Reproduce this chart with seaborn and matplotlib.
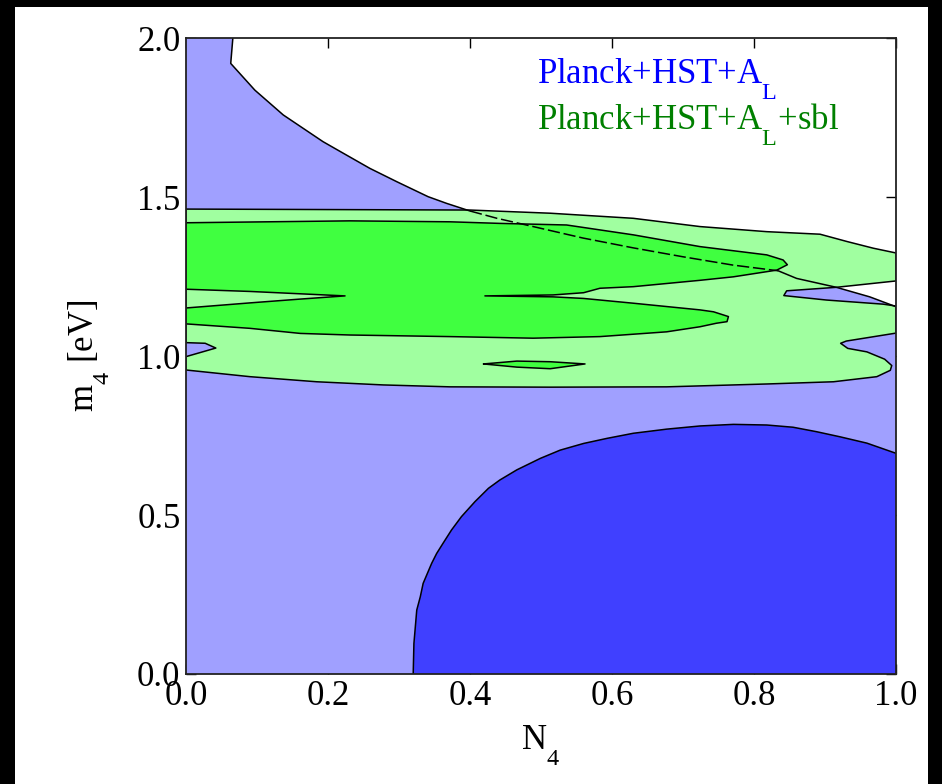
import numpy as np
import pandas as pd
import matplotlib
matplotlib.use("Agg")
import matplotlib.pyplot as plt
import seaborn as sns
from matplotlib.patches import Rectangle

# ---------------- data ----------------
# Planck+HST+A_L : 2-sigma boundary (white region above/right of it)
blue2_n = [0.066, 0.063, 0.097, 0.137, 0.193, 0.222, 0.259, 0.297, 0.341, 0.367,
           0.400, 0.438, 0.489, 0.559, 0.630, 0.700, 0.770, 0.834,
           0.860, 0.916, 0.963, 1.000]
blue2_m = [2.000, 1.920, 1.836, 1.758, 1.674, 1.637, 1.590, 1.548, 1.501, 1.480,
           1.456, 1.433, 1.407, 1.371, 1.340, 1.312, 1.286, 1.268,
           1.244, 1.216, 1.186, 1.155]
dash_start, dash_end = 10, 17   # indices where the boundary is drawn dashed

# Planck+HST+A_L : 1-sigma region (bottom right)
blue1_n = [0.320, 0.321, 0.325, 0.330, 0.334, 0.346, 0.353, 0.362, 0.374, 0.388,
           0.407, 0.426, 0.442, 0.466, 0.499, 0.527, 0.560, 0.593, 0.630, 0.677,
           0.724, 0.771, 0.818, 0.855, 0.888, 0.921, 0.959, 1.000]
blue1_m = [0.000, 0.096, 0.201, 0.243, 0.285, 0.348, 0.379, 0.411, 0.453, 0.495,
           0.542, 0.584, 0.610, 0.642, 0.678, 0.704, 0.725, 0.741, 0.757, 0.770,
           0.780, 0.785, 0.783, 0.776, 0.762, 0.746, 0.726, 0.694]

# Planck+HST+A_L+sbl : 2-sigma region
green2_n = [0.000, 0.400, 0.513, 0.630, 0.724, 0.818, 0.893, 0.931, 0.968, 1.000,
            1.000, 0.916, 0.846, 0.842, 0.902, 0.982, 1.000,
            1.000, 0.930, 0.922, 0.932, 0.959, 0.984, 0.994, 0.992, 0.973, 0.912,
            0.818, 0.677, 0.513, 0.372, 0.278, 0.184, 0.090, 0.000,
            0.000, 0.042, 0.027, 0.000]
green2_m = [1.462, 1.459, 1.449, 1.433, 1.407, 1.391, 1.383, 1.360, 1.339, 1.324,
            1.236, 1.216, 1.205, 1.190, 1.176, 1.163, 1.157,
            1.072, 1.047, 1.040, 1.024, 1.013, 0.990, 0.970, 0.955, 0.935, 0.919,
            0.912, 0.903, 0.902, 0.903, 0.909, 0.919, 0.935, 0.956,
            0.998, 1.025, 1.040, 1.042]

# Planck+HST+A_L+sbl : 1-sigma main region
green1_n = [0.000, 0.231, 0.372, 0.442, 0.536, 0.630, 0.724, 0.818, 0.841, 0.847,
            0.832, 0.771, 0.724, 0.677, 0.630, 0.583, 0.560, 0.517, 0.421,
            0.517, 0.560, 0.630, 0.724, 0.743, 0.764, 0.762, 0.747, 0.724, 0.677,
            0.583, 0.489, 0.372, 0.231, 0.161, 0.090, 0.000,
            0.000, 0.090, 0.161, 0.224, 0.090, 0.000]
green1_m = [1.419, 1.425, 1.422, 1.417, 1.412, 1.381, 1.344, 1.318, 1.302, 1.287,
            1.270, 1.249, 1.238, 1.228, 1.218, 1.213, 1.199, 1.192, 1.189,
            1.186, 1.181, 1.166, 1.145, 1.139, 1.124, 1.108, 1.103, 1.092, 1.076,
            1.061, 1.056, 1.061, 1.066, 1.071, 1.087, 1.101,
            1.151, 1.167, 1.179, 1.189, 1.203, 1.210]

# Planck+HST+A_L+sbl : small 1-sigma island
island_n = [0.419, 0.466, 0.513, 0.562, 0.513, 0.466]
island_m = [0.975, 0.984, 0.982, 0.975, 0.960, 0.965]

x_ticks = [0.0, 0.2, 0.4, 0.6, 0.8, 1.0]
y_ticks = [0.0, 0.5, 1.0, 1.5, 2.0]
labels = [r"Planck+HST+A$_\mathrm{L}$", r"Planck+HST+A$_\mathrm{L}$+sbl"]

# ---------------- style ----------------
sns.set_theme(style="ticks")
plt.rcParams['font.family'] = ['Liberation Serif', 'DejaVu Serif']
plt.rcParams['mathtext.fontset'] = 'custom'
plt.rcParams['mathtext.rm'] = 'Liberation Serif'
plt.rcParams['mathtext.it'] = 'Liberation Serif:italic'
plt.rcParams['mathtext.bf'] = 'Liberation Serif:bold'
# deeper subscripts, as in the reference typesetting
try:
    import matplotlib._mathtext as _mt
    _mt.FontConstantsBase.sub1 = 0.95
except Exception:
    pass

c_lblue, c_dblue = '#A0A0FF', '#4040FF'
c_lgreen, c_dgreen = '#A0FFA0', '#40FF40'

fig = plt.figure(figsize=(9.42, 7.84), dpi=100, facecolor='black')
fig.add_artist(Rectangle((15 / 942, 0), (928 - 15) / 942, (784 - 7) / 784,
                         transform=fig.transFigure, facecolor='white',
                         edgecolor='none', zorder=-10))
ax = fig.add_axes([186 / 942, 110 / 784, 710 / 942, 636 / 784])
ax.set_facecolor('white')


def closed(a):
    return list(a) + [a[0]]


def outline(n, m, **kw):
    sns.lineplot(x=np.asarray(n), y=np.asarray(m), sort=False, estimator=None,
                 color='black', lw=1.1, ax=ax, **kw)


# light-blue 2 sigma region
ax.fill([0, 0] + blue2_n + [1], [0, 2] + blue2_m + [0], color=c_lblue, lw=0, zorder=1)
# dark-blue 1 sigma region
ax.fill(blue1_n + [1.0], blue1_m + [0.0], color=c_dblue, lw=0, zorder=2)
outline(blue1_n, blue1_m, zorder=2.5)
# green regions
ax.fill(green2_n, green2_m, color=c_lgreen, lw=0, zorder=3)
outline(closed(green2_n), closed(green2_m), zorder=3.5)
ax.fill(green1_n, green1_m, color=c_dgreen, lw=0, zorder=4)
outline(closed(green1_n), closed(green1_m), zorder=4.5)
ax.fill(island_n, island_m, color=c_dgreen, lw=0, zorder=4)
outline(closed(island_n), closed(island_m), zorder=4.5)
# blue 2 sigma boundary line (dashed where it crosses the green regions)
outline(blue2_n[:dash_start + 1], blue2_m[:dash_start + 1], zorder=6)
outline(blue2_n[dash_start:dash_end + 1], blue2_m[dash_start:dash_end + 1],
        zorder=6, linestyle=(0, (8, 2.5)))
outline(blue2_n[dash_end:], blue2_m[dash_end:], zorder=6)

ax.set_xlim(0, 1)
ax.set_ylim(0, 2)
ax.set_xticks(x_ticks)
ax.set_yticks(y_ticks)
ax.set_xticklabels([f"{v:.1f}" for v in x_ticks])
ax.set_yticklabels([f"{v:.1f}" for v in y_ticks])
ax.tick_params(direction='in', top=True, right=True, length=7, width=1,
               labelsize=25, pad=4, colors='black')
for s in ax.spines.values():
    s.set_color('#222222')
    s.set_linewidth(1.3)
    s.set_zorder(10)

ax.set_xlabel(r"N$_4$", fontsize=25, labelpad=8, color='black')
ax.set_ylabel(r"m$_4$ [eV]", fontsize=25, labelpad=18, color='black')

ax.text(0.494, 0.928, labels[0], transform=ax.transAxes, fontsize=25,
        color='#0000FF', va='baseline', ha='left', zorder=11)
ax.text(0.494, 0.856, labels[1], transform=ax.transAxes, fontsize=25,
        color='#008000', va='baseline', ha='left', zorder=11)

fig.savefig("out.png", dpi=100, facecolor=fig.get_facecolor())
